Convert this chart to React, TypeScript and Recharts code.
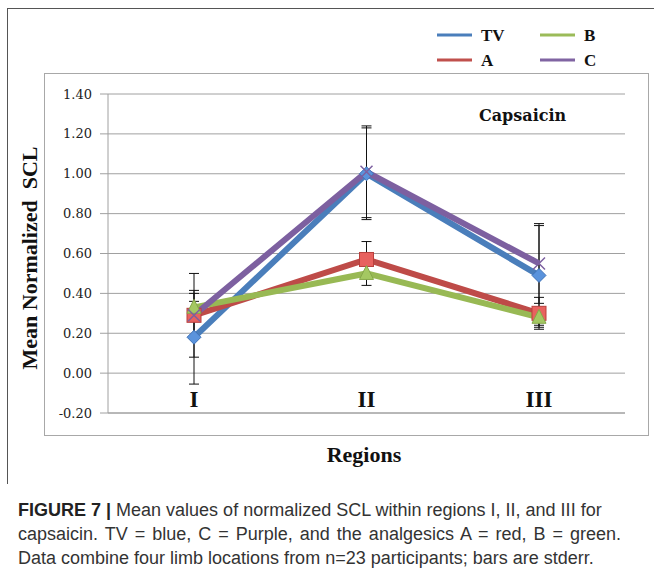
import React from 'react';
import { LineChart, Line, XAxis, YAxis, CartesianGrid, ErrorBar } from 'recharts';

const regions = ['I', 'II', 'III'];
const tvMean = [0.18, 1.0, 0.49];
const tvErr = [0.235, 0.23, 0.25];
const aMean = [0.29, 0.57, 0.3];
const aErr = [0.11, 0.09, 0.08];
const bMean = [0.33, 0.5, 0.28];
const bErr = [0.03, 0.06, 0.05];
const cMean = [0.29, 1.01, 0.55];
const cErr = [0.21, 0.23, 0.2];
const yTicks = [-0.2, 0, 0.2, 0.4, 0.6, 0.8, 1.0, 1.2, 1.4];

// legend is laid out in two columns: TV, A | B, C
const legendItems = [
  { name: 'TV', color: '#4a7ebb' },
  { name: 'A', color: '#c0504d' },
  { name: 'B', color: '#9bbb59' },
  { name: 'C', color: '#8064a2' },
];

const data = regions.map((r, i) => ({
  region: r,
  TV: tvMean[i],
  tvErr: tvErr[i],
  A: aMean[i],
  aErr: aErr[i],
  B: bMean[i],
  bErr: bErr[i],
  C: cMean[i],
  cErr: cErr[i],
}));

const serif = '"Liberation Serif", "Times New Roman", serif';

const Diamond = (p: any) => {
  const { cx, cy } = p;
  if (cx == null || cy == null) return <g key={p.key} />;
  return (
    <path
      key={p.key}
      d={`M${cx},${cy - 7} L${cx + 7},${cy} L${cx},${cy + 7} L${cx - 7},${cy} Z`}
      fill="#5a93dc"
      stroke="#3f72b8"
      strokeWidth={1}
    />
  );
};

const Square = (p: any) => {
  const { cx, cy } = p;
  if (cx == null || cy == null) return <g key={p.key} />;
  return <rect key={p.key} x={cx - 7} y={cy - 7} width={14} height={14} fill="#e8625f" stroke="#b9403d" strokeWidth={1} />;
};

const Triangle = (p: any) => {
  const { cx, cy } = p;
  if (cx == null || cy == null) return <g key={p.key} />;
  return (
    <path
      key={p.key}
      d={`M${cx},${cy - 8} L${cx + 7},${cy + 6} L${cx - 7},${cy + 6} Z`}
      fill="#a4c862"
      stroke="#86a84a"
      strokeWidth={1}
    />
  );
};

const Cross = (p: any) => {
  const { cx, cy } = p;
  if (cx == null || cy == null) return <g key={p.key} />;
  return (
    <path
      key={p.key}
      d={`M${cx - 6},${cy - 6} L${cx + 6},${cy + 6} M${cx - 6},${cy + 6} L${cx + 6},${cy - 6}`}
      stroke="#7d60a0"
      strokeWidth={1.5}
    />
  );
};

const RegionTick = (props: any) => {
  const { x, y, payload } = props;
  return (
    <text x={x} y={y - 6} textAnchor="middle" fontFamily={serif} fontWeight="bold" fontSize={23} fill="#111">
      {payload.value}
    </text>
  );
};

function LegendBox() {
  return (
    <svg width={220} height={50} style={{ position: 'absolute', left: 437, top: 23 }}>
      {legendItems.map((it, i) => {
        const col = i < 2 ? 0 : 1;
        const row = i % 2;
        const x0 = col * 103;
        const y0 = 12 + row * 25;
        return (
          <g key={it.name}>
            <line x1={x0} y1={y0} x2={x0 + 35} y2={y0} stroke={it.color} strokeWidth={3} />
            <text x={x0 + 44} y={y0 + 6} fontFamily={serif} fontWeight="bold" fontSize={17} fill="#111">
              {it.name}
            </text>
          </g>
        );
      })}
    </svg>
  );
}

export default function App() {
  return (
    <div style={{ position: 'absolute', left: 0, top: 0, width: 654, height: 581, background: '#fff', overflow: 'hidden' }}>
      <div style={{ position: 'absolute', left: 7, top: 8, width: 700, height: 475, borderTop: '1px solid #555', borderLeft: '1px solid #555' }} />
      <div style={{ position: 'absolute', left: 44, top: 73, width: 603, height: 361, border: '1px solid #a8a8a8' }} />

      <div style={{ position: 'absolute', left: 0, top: 0 }}>
        <LineChart width={654} height={490} data={data} margin={{ top: 94, right: 29, bottom: 47, left: 48 }}>
          <CartesianGrid vertical={false} stroke="#a0a0a0" />
          <XAxis
            dataKey="region"
            height={30}
            padding={{ left: 86, right: 86 }}
            axisLine={{ stroke: '#a0a0a0' }}
            tickLine={false}
            tickSize={0}
            tickMargin={0}
            tick={<RegionTick />}
            interval={0}
          />
          <YAxis
            width={60}
            domain={[-0.2, 1.4]}
            ticks={yTicks}
            interval={0}
            tickFormatter={(v: number) => v.toFixed(2)}
            axisLine={{ stroke: '#a0a0a0' }}
            tickLine={{ stroke: '#a0a0a0' }}
            tickSize={8}
            tickMargin={8}
            tick={{ fontFamily: '"DejaVu Serif", serif', fontSize: 13, fill: '#222' }}
          />
          <Line type="linear" dataKey="TV" stroke="#4a7ebb" strokeWidth={6} dot={Diamond} isAnimationActive={false}>
            <ErrorBar dataKey="tvErr" width={5} stroke="#111" strokeWidth={1} direction="y" isAnimationActive={false} />
          </Line>
          <Line type="linear" dataKey="A" stroke="#be4b48" strokeWidth={6} dot={Square} isAnimationActive={false}>
            <ErrorBar dataKey="aErr" width={5} stroke="#111" strokeWidth={1} direction="y" isAnimationActive={false} />
          </Line>
          <Line type="linear" dataKey="B" stroke="#98b954" strokeWidth={6} dot={Triangle} isAnimationActive={false}>
            <ErrorBar dataKey="bErr" width={5} stroke="#111" strokeWidth={1} direction="y" isAnimationActive={false} />
          </Line>
          <Line type="linear" dataKey="C" stroke="#7d60a0" strokeWidth={6} dot={Cross} isAnimationActive={false}>
            <ErrorBar dataKey="cErr" width={5} stroke="#111" strokeWidth={1} direction="y" isAnimationActive={false} />
          </Line>
        </LineChart>
      </div>

      <LegendBox />

      <div
        style={{
          position: 'absolute',
          left: 479,
          top: 106,
          fontFamily: '"DejaVu Serif", serif',
          fontWeight: 'bold',
          fontSize: 16,
          lineHeight: '20px',
          color: '#111',
        }}
      >
        Capsaicin
      </div>

      <div
        style={{
          position: 'absolute',
          left: 30,
          top: 258,
          transform: 'translate(-50%, -50%) rotate(-90deg)',
          whiteSpace: 'pre',
          fontFamily: serif,
          fontWeight: 'bold',
          fontSize: 22,
          lineHeight: '22px',
          color: '#111',
        }}
      >
        Mean Normalized  SCL
      </div>

      <div
        style={{
          position: 'absolute',
          left: 364,
          top: 444,
          transform: 'translateX(-50%)',
          fontFamily: serif,
          fontWeight: 'bold',
          fontSize: 22,
          lineHeight: '22px',
          color: '#111',
        }}
      >
        Regions
      </div>

      <div
        style={{
          position: 'absolute',
          left: 18,
          top: 498,
          fontFamily: '"Liberation Sans", Arial, sans-serif',
          fontSize: 18,
          lineHeight: '24px',
          color: '#333',
          whiteSpace: 'nowrap',
        }}
      >
        <div>
          <b style={{ color: '#222' }}>FIGURE 7 |</b> Mean values of normalized SCL within regions I, II, and III for
        </div>
        <div style={{ wordSpacing: 2 }}>capsaicin. TV = blue, C = Purple, and the analgesics A = red, B = green.</div>
        <div>Data combine four limb locations from n=23 participants; bars are stderr.</div>
      </div>
    </div>
  );
}
